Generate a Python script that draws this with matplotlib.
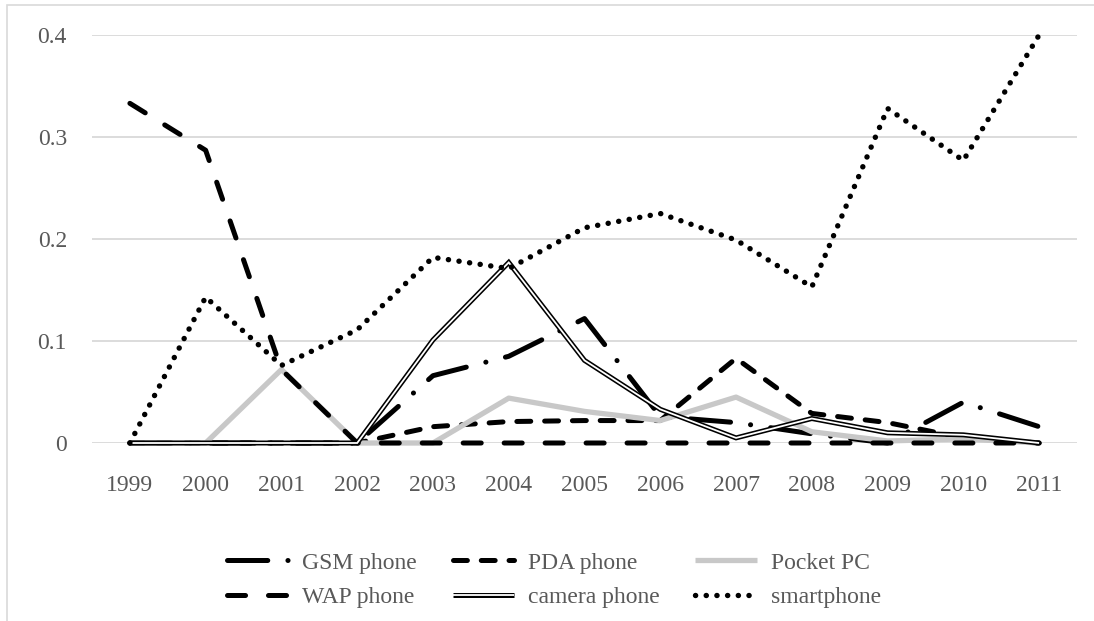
import matplotlib
matplotlib.use("Agg")
import matplotlib.pyplot as plt
from matplotlib.patches import Rectangle
from matplotlib.legend_handler import HandlerTuple

plt.rcParams['font.family'] = ['Liberation Serif', 'DejaVu Serif']
plt.rcParams['lines.scale_dashes'] = False

years = ['1999', '2000', '2001', '2002', '2003', '2004', '2005',
         '2006', '2007', '2008', '2009', '2010', '2011']
gsm_phone = [0, 0, 0, 0, 0.066, 0.085, 0.122, 0.026, 0.020, 0.009, 0, 0.040, 0.016]
pda_phone = [0, 0, 0, 0, 0.016, 0.021, 0.022, 0.022, 0.083, 0.029, 0.020, 0.005, 0]
pocket_pc = [0, 0, 0.072, 0, 0, 0.044, 0.031, 0.022, 0.045, 0.011, 0.002, 0.004, 0]
wap_phone = [0.333, 0.287, 0.072, 0, 0, 0, 0, 0, 0, 0, 0, 0, 0]
camera_phone = [0, 0, 0, 0, 0.101, 0.177, 0.081, 0.033, 0.005, 0.024, 0.010, 0.008, 0]
smartphone = [0, 0.143, 0.076, 0.111, 0.182, 0.171, 0.211, 0.225, 0.199, 0.153, 0.328, 0.277, 0.400]

y_ticks = [0, 0.1, 0.2, 0.3, 0.4]
y_tick_labels = ['0', '0.1', '0.2', '0.3', '0.4']

W, H = 1094, 621
fig = plt.figure(figsize=(W / 100, H / 100), dpi=100)
ax = fig.add_axes([92 / W, 1 - 443 / H, (1077 - 92) / W, (443 - 35) / H])

x = list(range(len(years)))
LW = 3.6
txt_color = '#595959'

l1, = ax.plot(x, gsm_phone, color='black', lw=LW,
              linestyle=(0, (29, 14.5, 0.1, 14.5)), dash_capstyle='round', zorder=3)
l2, = ax.plot(x, pda_phone, color='black', lw=LW,
              linestyle=(0, (10, 10)), dash_capstyle='round', zorder=4)
l3, = ax.plot(x, pocket_pc, color='#c8c8c8', lw=LW + 0.2,
              solid_capstyle='butt', zorder=5)
l4, = ax.plot(x, wap_phone, color='black', lw=LW,
              linestyle=(0, (13, 16.5)), dash_capstyle='round', zorder=6)
c_outer, = ax.plot(x, camera_phone, color='black', lw=3.6,
                   solid_joinstyle='miter', solid_capstyle='butt', zorder=7)
c_inner, = ax.plot(x, camera_phone, color='white', lw=1.3,
                   solid_joinstyle='miter', solid_capstyle='butt', zorder=7.1)
l6, = ax.plot(x, smartphone, color='black', lw=3.9,
              linestyle=(0, (0.1, 7.6)), dash_capstyle='round', zorder=8)

ax.set_xlim(-0.5, len(years) - 0.5)
ax.set_ylim(0, 0.4)
ax.set_xticks(x)
ax.set_xticklabels(years)
ax.set_yticks(y_ticks)
ax.set_yticklabels(y_tick_labels)
ax.tick_params(axis='both', length=0, labelsize=17, labelcolor=txt_color)
ax.tick_params(axis='y', pad=18)
ax.tick_params(axis='x', pad=23)
for s in ax.spines.values():
    s.set_visible(False)
ax.grid(axis='y', color='#d9d9d9', lw=1.3)
ax.set_axisbelow(True)
for ln in ax.get_lines():
    ln.set_clip_on(False)

# column-major order so rows read: GSM, PDA, Pocket PC / WAP, camera, smartphone
handles = [l1, l4, l2, (c_outer, c_inner), l3, l6]
labels = ['GSM phone', 'WAP phone', 'PDA phone', 'camera phone', 'Pocket PC', 'smartphone']
leg = fig.legend(handles, labels, ncol=3, loc='center',
                 bbox_to_anchor=(554 / W, 1 - 580 / H), frameon=False,
                 fontsize=17, handlelength=2.6, handletextpad=0.6,
                 columnspacing=1.5, labelspacing=0.55, borderpad=0,
                 handler_map={tuple: HandlerTuple(ndivide=1, pad=0)})
for t in leg.get_texts():
    t.set_color(txt_color)

fig.add_artist(Rectangle((7 / W, -0.05), 1.2, 1.05 - 5 / H, transform=fig.transFigure,
                         fill=False, edgecolor='#d9d9d9', lw=1.2))

fig.savefig('out.png', dpi=100)
